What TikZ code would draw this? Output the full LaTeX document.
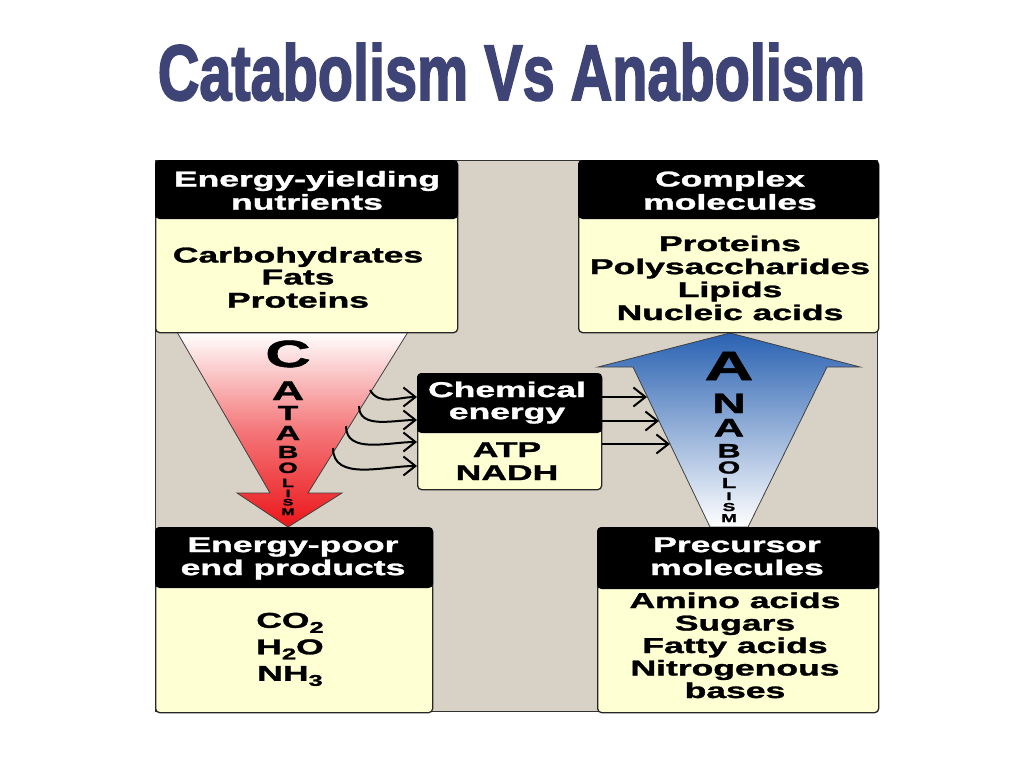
\documentclass[tikz,border=0pt]{standalone}
\usepackage{fontspec}
\setmainfont{Liberation Sans}[BoldFeatures={FakeBold=1.2}]
\newfontfamily\titlefont{Liberation Sans}[BoldFeatures={FakeBold=2.5}]
\usepackage{graphicx}
\usetikzlibrary{arrows.meta}
\definecolor{panelbg}{RGB}{216,210,198}
\definecolor{boxyellow}{RGB}{255,255,212}
\definecolor{titleblue}{RGB}{62,68,118}
\definecolor{catred}{RGB}{235,22,26}
\definecolor{catmid}{RGB}{244,120,122}
\definecolor{anablue}{RGB}{42,98,178}
\newcommand\W[1]{\scalebox{1.65}[1]{\strut #1}}
\newcommand\X[1]{\scalebox{1.65}[1]{#1}}
\newcommand\lowidx[1]{\raisebox{-5pt}{\fontsize{15.5}{15.5}\selectfont #1}}
\tikzset{
  hdr/.style={fill=black, draw=black, line width=1pt, rounded corners=4pt, inner sep=0pt, anchor=north west},
  bodybox/.style={fill=boxyellow, draw=black!85, line width=1.3pt, rounded corners=4pt, inner sep=0pt, anchor=north west},
  ht/.style={text=white, font=\fontsize{21.5}{#1}\selectfont\bfseries, align=center, inner sep=0pt},
  bt/.style={text=black, font=\fontsize{21.5}{#1}\selectfont\bfseries, align=center, inner sep=0pt},
  conn/.style={line width=2pt, -{Straight Barb[length=12pt,width=19pt]}},
  letter/.style={font=\fontsize{#1}{#1}\selectfont\bfseries, inner sep=0pt, anchor=base},
  bigarrow/.style={draw=black!75, line width=0.8pt}
}
\begin{document}
\begin{tikzpicture}[x=1pt,y=-1pt]
\useasboundingbox (0,0) rectangle (1024,768);
\fill[white] (0,0) rectangle (1024,768);
% title
\node[inner sep=0pt, anchor=base, text=titleblue] (title) at (511.5,100)
  {\resizebox{707pt}{57pt}{\titlefont\bfseries Catabolism Vs Anabolism}};
% panel
\node[fill=panelbg, draw=black!80, line width=1pt, inner sep=0pt, anchor=north west,
  minimum width=722pt, minimum height=551pt] (panel) at (155,160) {};
% big arrows
\path[bigarrow, top color=white, bottom color=catred, middle color=catmid]
  (177,332) -- (408,332) -- (308,493) -- (342,493) -- (288,527) -- (237,493) -- (270,493) -- cycle;
\path[bigarrow, top color=anablue, bottom color=white]
  (730,333) -- (860,367) -- (827,367) -- (748,527) -- (710,527) -- (633,367) -- (598,367) -- cycle;
% catabolism letters
\node[letter=38] (c1) at (288,367) {\X{C}};
\node[letter=27] (c2) at (288,400) {\X{A}};
\node[letter=20.5] (c3) at (288,420) {\X{T}};
\node[letter=20.5] (c4) at (288,440) {\X{A}};
\node[letter=17.5] (c5) at (288,458) {\X{B}};
\node[letter=15] (c6) at (288,473) {\X{O}};
\node[letter=12] (c7) at (288,487) {\X{L}};
\node[letter=10.5] (c8) at (288,497) {\X{I}};
\node[letter=9.5] (c9) at (288,505.5) {\X{S}};
\node[letter=9.5] (c10) at (288,515) {\X{M}};
% anabolism letters
\node[letter=41] (a1) at (729,380) {\X{A}};
\node[letter=28] (a2) at (729,413) {\X{N}};
\node[letter=25.5] (a3) at (729,436.5) {\X{A}};
\node[letter=19.5] (a4) at (729,457.5) {\X{B}};
\node[letter=17.5] (a5) at (729,473.5) {\X{O}};
\node[letter=14.5] (a6) at (729,488) {\X{L}};
\node[letter=11] (a7) at (729,500) {\X{I}};
\node[letter=11.5] (a8) at (729,511) {\X{S}};
\node[letter=11.5] (a9) at (729,522) {\X{M}};
% boxes
\node[bodybox, minimum width=302pt, minimum height=172pt] (tlbox) at (155,160) {};
\node[hdr, minimum width=302pt, minimum height=58pt] (tlhead) at (155,160) {};
\node[bodybox, minimum width=300pt, minimum height=172pt] (trbox) at (578,160) {};
\node[hdr, minimum width=300pt, minimum height=58pt] (trhead) at (578,160) {};
\node[bodybox, minimum width=277pt, minimum height=185pt] (blbox) at (155,527) {};
\node[hdr, minimum width=277pt, minimum height=60pt] (blhead) at (155,527) {};
\node[bodybox, minimum width=281pt, minimum height=185pt] (brbox) at (597,527) {};
\node[hdr, minimum width=281pt, minimum height=61pt] (brhead) at (597,527) {};
\node[bodybox, minimum width=184pt, minimum height=116pt] (cbody) at (417,373) {};
\node[hdr, minimum width=184pt, minimum height=59pt] (chead) at (417,373) {};
% texts
\node[ht=22] (tlht) at (307,193.6) {\W{Energy-yielding}\\\W{nutrients}};
\node[bt=22] (tlbt) at (298,280.6) {\W{Carbohydrates}\\\W{Fats}\\\W{Proteins}};
\node[ht=22] (trht) at (730,193.6) {\W{Complex}\\\W{molecules}};
\node[bt=23] (trbt) at (730,281) {\W{Proteins}\\\W{Polysaccharides}\\\W{Lipids}\\\W{Nucleic acids}};
\node[ht=22] (cht) at (507,403.6) {\W{Chemical}\\\W{energy}};
\node[bt=23] (cbt) at (507,464) {\W{ATP}\\\W{NADH}};
\node[ht=23] (blht) at (293,559) {\W{Energy-poor}\\\W{end products}};
\node[bt=26.5] (blbt) at (290,649) {\W{CO\lowidx{2}}\\\W{H\lowidx{2}O}\\\W{NH\lowidx{3}}};
\node[ht=23] (brht) at (737,559) {\W{Precursor}\\\W{molecules}};
\node[bt=22.5] (brbt) at (735,648.5) {\W{Amino acids}\\\W{Sugars}\\\W{Fatty acids}\\\W{Nitrogenous}\\\W{bases}};
% connector end points
\coordinate (cat1) at (370,390);
\coordinate (cat2) at (359,406);
\coordinate (cat3) at (346,426);
\coordinate (cat4) at (333,448);
\coordinate (lv1) at (0,397);
\coordinate (lv2) at (0,420);
\coordinate (lv3) at (0,442);
\coordinate (lv4) at (0,466);
\coordinate (ana1) at (647,397);
\coordinate (ana2) at (659,421);
\coordinate (ana3) at (670,444);
\draw[conn] (cat1) to[out=-60,in=180] (lv1 -| chead.west);
\draw[conn] (cat2) to[out=-90,in=180] (lv2 -| chead.west);
\draw[conn] (cat3) to[out=-90,in=180] (lv3 -| cbody.west);
\draw[conn] (cat4) to[out=-90,in=180] (lv4 -| cbody.west);
\draw[conn] (chead.east |- ana1) -- (ana1);
\draw[conn] (chead.east |- ana2) -- (ana2);
\draw[conn] (cbody.east |- ana3) -- (ana3);
\end{tikzpicture}
\end{document}
